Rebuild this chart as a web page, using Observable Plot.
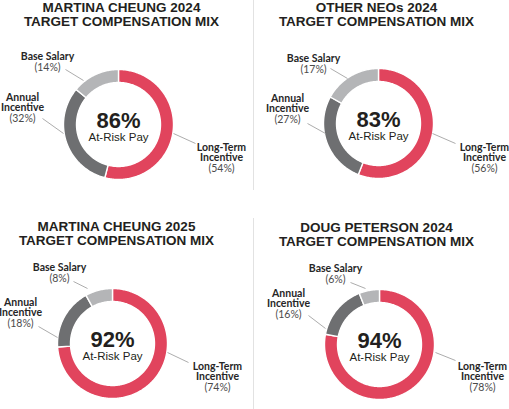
<!DOCTYPE html>
<html>
<head>
<meta charset="utf-8">
<script src="https://cdn.jsdelivr.net/npm/d3@7"></script>
<script src="https://cdn.jsdelivr.net/npm/@observablehq/plot@0.6"></script>
<style>
  html, body { margin: 0; padding: 0; background: #fff; }
  #chart svg g[aria-label="titles"] text { letter-spacing: -0.6px; }
  #chart svg g[aria-label="center-value"] text { letter-spacing: -0.4px; }
  #chart svg g[aria-label="center-label"] text { letter-spacing: -0.3px; }
  #chart svg g[aria-label="names"] text { letter-spacing: 0.1px; }
  #chart svg g[aria-label="pcts"] text { letter-spacing: 0.3px; }
</style>
</head>
<body>
<div id="chart"></div>
<script>
// ---------- data ----------
const panelNames = ["MARTINA CHEUNG 2024", "OTHER NEOs 2024", "MARTINA CHEUNG 2025", "DOUG PETERSON 2024"];
const subtitleText = "TARGET COMPENSATION MIX";
const components = ["Long-Term Incentive", "Annual Incentive", "Base Salary"];
const componentLabels = ["Long-Term\nIncentive", "Annual\nIncentive", "Base Salary"];
const longTermPct = [54, 56, 74, 78];
const annualPct = [32, 27, 18, 16];
const basePct = [14, 17, 8, 6];
const atRiskPct = [86, 83, 92, 94];
const centerLabel = "At-Risk Pay";

// ---------- layout (positions only) ----------
const colors = ["#e1445d", "#6e6f71", "#b4b5b7"];
const centers = [[118, 124], [378, 123], [112, 343], [379, 344]];
const titleCenters = [[121, 7], [376, 7], [116, 226], [376, 227]];
const outerR = 55, innerR = 42;
// per panel, per component: [dx, dyFirstLine, dyPct, lx1, ly1, lx2, ly2]
const labelLayout = [
  [[103, 23, 43, 55, 9, 77, 19], [-96, -27, -7, -76, -6, -55, 9], [-71, -68, -58, -53, -55, -35, -44]],
  [[106, 24, 44, 54, 10, 77, 20], [-91, -25, -5, -71, 0, -53, 10], [-65, -65, -55, -48, -55, -31, -45]],
  [[105, 23, 43, 55, 9, 76, 19], [-92, -41, -21, -74, -17, -55, -6], [-53, -76, -66, -39, -62, -25, -55]],
  [[103, 22, 42, 56, 8, 76, 16], [-91, -51, -31, -71, -29, -54, -16], [-44, -76, -66, -29, -62, -14, -56]]
];

// ---------- derived tables ----------
const arcRows = [];
const nameRows = [], pctRows = [], leaderRows = [], titleRows = [], centerRows = [];
panelNames.forEach((name, p) => {
  const values = [longTermPct[p], annualPct[p], basePct[p]];
  const [cx, cy] = centers[p];
  let cum = 0;
  values.forEach((v, c) => {
    const a0 = cum / 100 * 2 * Math.PI;
    const a1 = (cum + v) / 100 * 2 * Math.PI;
    cum += v;
    const n = Math.max(4, Math.ceil(v * 3.6));
    const key = p + "-" + c;
    for (let i = 0; i <= n; i++) {
      const a = a0 + (a1 - a0) * i / n;
      arcRows.push({key, component: components[c], x: cx + outerR * Math.sin(a), y: cy - outerR * Math.cos(a)});
    }
    for (let i = n; i >= 0; i--) {
      const a = a0 + (a1 - a0) * i / n;
      arcRows.push({key, component: components[c], x: cx + innerR * Math.sin(a), y: cy - innerR * Math.cos(a)});
    }
    const L = labelLayout[p][c];
    const lines = componentLabels[c].split("\n").length;
    nameRows.push({x: cx + L[0], y: cy + L[1] + (lines - 1) * 5, text: componentLabels[c]});
    pctRows.push({x: cx + L[0], y: cy + L[2] + 1.5, text: "(" + v + "%)"});
    leaderRows.push({x1: cx + L[3], y1: cy + L[4], x2: cx + L[5], y2: cy + L[6]});
  });
  titleRows.push({x: titleCenters[p][0], y: titleCenters[p][1] + 7, text: name + "\n" + subtitleText});
  centerRows.push({x: cx, y: cy, value: atRiskPct[p] + "%", label: centerLabel});
});

const chart = Plot.plot({
  width: 509,
  height: 409,
  margin: 0,
  x: {domain: [0, 509], range: [0, 509], axis: null},
  y: {domain: [0, 409], range: [0, 409], axis: null},
  color: {domain: components, range: colors},
  style: {background: "#fff", overflow: "visible"},
  marks: [
    Plot.ruleX([253], {y1: 0, y2: 190, stroke: "#e2e2e2", strokeWidth: 1}),
    Plot.ruleX([253], {y1: 218, y2: 409, stroke: "#e2e2e2", strokeWidth: 1}),
    Plot.line(arcRows, {x: "x", y: "y", z: "key", fill: "component", stroke: "#fff", strokeWidth: 1.4, curve: "linear-closed"}),
    Plot.link(leaderRows, {x1: "x1", y1: "y1", x2: "x2", y2: "y2", stroke: "#a3a3a3", strokeWidth: 0.9}),
    Plot.text(titleRows, {x: "x", y: "y", text: "text", fontSize: 13.5, fontWeight: "bold", fontFamily: "Liberation Sans, Arial, sans-serif", fill: "#231f20", lineHeight: 1.07, ariaLabel: "titles"}),
    Plot.text(centerRows, {x: "x", y: (d) => d.y - 4, text: "value", fontSize: 22, fontWeight: "bold", fontFamily: "Liberation Sans, Arial, sans-serif", fill: "#231f20", ariaLabel: "center-value"}),
    Plot.text(centerRows, {x: "x", y: (d) => d.y + 13, text: "label", fontSize: 11.5, fontFamily: "Liberation Sans, Arial, sans-serif", fill: "#231f20", ariaLabel: "center-label"}),
    Plot.text(nameRows, {x: "x", y: "y", text: "text", fontSize: 10.5, fontWeight: "bold", fontFamily: "Lato, sans-serif", fill: "#262626", lineHeight: 1.0, ariaLabel: "names"}),
    Plot.text(pctRows, {x: "x", y: "y", text: "text", fontSize: 10.5, fontFamily: "Lato, sans-serif", fill: "#4a4a4a", ariaLabel: "pcts"})
  ]
});
document.getElementById("chart").appendChild(chart);
</script>
</body>
</html>
